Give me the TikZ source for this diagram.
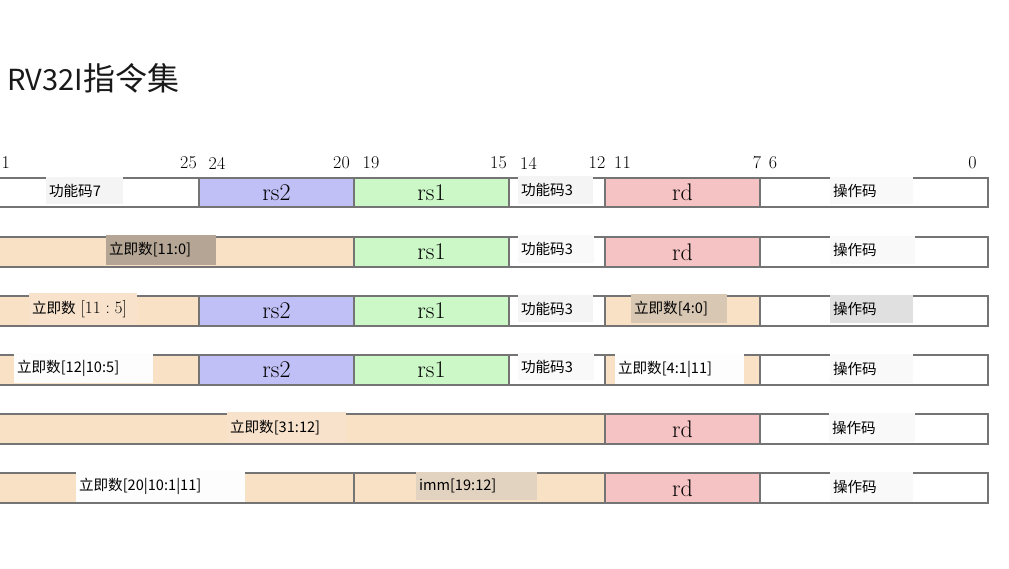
\documentclass[tikz,border=0pt]{standalone}
\usepackage{fontspec}
\newfontfamily\cjk{Noto Sans CJK SC}
\definecolor{rsblue}{HTML}{C0C0F6}
\definecolor{rsgreen}{HTML}{CCF8C8}
\definecolor{rdpink}{HTML}{F5C3C3}
\definecolor{impeach}{HTML}{F9E1C6}
\definecolor{edgegray}{HTML}{747474}
\definecolor{pA}{HTML}{F4F4F4}
\definecolor{pB}{HTML}{F9F9F9}
\definecolor{pC}{HTML}{FDFDFD}
\definecolor{pBrown}{HTML}{B4A594}
\definecolor{pTan}{HTML}{D8C7B3}
\definecolor{pTan2}{HTML}{E2D3C0}
\definecolor{pGray}{HTML}{E0E0E0}
\definecolor{pPeach}{HTML}{F8E2CB}
\tikzset{
  fieldbox/.style={draw=edgegray, line width=1.3pt, inner sep=0pt, outer sep=0pt,
    font=\fontsize{24}{24}\selectfont},
  patch/.style={inner xsep=3pt, inner ysep=0pt, outer sep=0pt, align=left,
    font=\cjk\fontsize{14.6}{14.6}\selectfont, text=black},
  bitno/.style={inner sep=0pt, font=\fontsize{18}{18}\selectfont},
  title/.style={inner sep=0pt, font=\cjk\fontsize{32}{32}\selectfont, text=black!90}
}
\newcommand\fbx[7]{\node[fieldbox, fill=#6, minimum width={(#3-(#2))*1pt},
  minimum height={(#5-(#4))*1pt}] (#1) at ({(#2+#3)/2},{(#4+#5)/2}) {#7};}
\newcommand\lbl[7]{\node[patch, fill=#6, text width={(#3-(#2)-6)*1pt},
  minimum height={(#5-(#4))*1pt}, anchor=north west] (#1) at (#2,#4) {#7};}
\begin{document}
\begin{tikzpicture}[x=1pt,y=-1pt]
\useasboundingbox (0,0) rectangle (1009,568);
\clip (0,0) rectangle (1009,568);
\fill[white] (0,0) rectangle (1009,568);

\node[title, anchor=base west] (ttl) at (7,90) {{\fontsize{29}{29}\selectfont RV32I}指令集};

% bit numbers
\node[bitno, anchor=east] (b31) at (10,163) {1};
\node[bitno] (b25) at (188.5,163) {25};
\node[bitno] (b24) at (217,163) {24};
\node[bitno] (b20) at (341.5,163) {20};
\node[bitno] (b19) at (371,163) {19};
\node[bitno] (b15) at (498.5,163) {15};
\node[bitno] (b14) at (528.5,163) {14};
\node[bitno] (b12) at (597,163) {12};
\node[bitno] (b11) at (622.5,163) {11};
\node[bitno] (b7) at (757,163) {7};
\node[bitno] (b6) at (773,163) {6};
\node[bitno] (b0) at (972.5,163) {0};

% row 1 (R)
\fbx{r1a}{-20}{199}{178}{207}{white}{}
\fbx{r1b}{199}{354}{178}{207}{rsblue}{rs2}
\fbx{r1c}{354}{509}{178}{207}{rsgreen}{rs1}
\fbx{r1d}{509}{605}{178}{207}{white}{}
\fbx{r1e}{605}{760}{178}{207}{rdpink}{rd}
\fbx{r1f}{760}{988}{178}{207}{white}{}
% row 2 (I)
\fbx{r2a}{-20}{354}{237}{267}{impeach}{}
\fbx{r2c}{354}{509}{237}{267}{rsgreen}{rs1}
\fbx{r2d}{509}{605}{237}{267}{white}{}
\fbx{r2e}{605}{760}{237}{267}{rdpink}{rd}
\fbx{r2f}{760}{988}{237}{267}{white}{}
% row 3 (S)
\fbx{r3a}{-20}{199}{296}{326}{impeach}{}
\fbx{r3b}{199}{354}{296}{326}{rsblue}{rs2}
\fbx{r3c}{354}{509}{296}{326}{rsgreen}{rs1}
\fbx{r3d}{509}{605}{296}{326}{white}{}
\fbx{r3e}{605}{760}{296}{326}{impeach}{}
\fbx{r3f}{760}{988}{296}{326}{white}{}
% row 4 (B)
\fbx{r4a}{-20}{199}{355}{385}{impeach}{}
\fbx{r4b}{199}{354}{355}{385}{rsblue}{rs2}
\fbx{r4c}{354}{509}{355}{385}{rsgreen}{rs1}
\fbx{r4d}{509}{605}{355}{385}{white}{}
\fbx{r4e}{605}{760}{355}{385}{impeach}{}
\fbx{r4f}{760}{988}{355}{385}{white}{}
% row 5 (U)
\fbx{r5a}{-20}{605}{414}{444}{impeach}{}
\fbx{r5e}{605}{760}{414}{444}{rdpink}{rd}
\fbx{r5f}{760}{988}{414}{444}{white}{}
% row 6 (J)
\fbx{r6a}{-20}{354}{473}{503}{impeach}{}
\fbx{r6c}{354}{605}{473}{503}{impeach}{}
\fbx{r6e}{605}{760}{473}{503}{rdpink}{rd}
\fbx{r6f}{760}{988}{473}{503}{white}{}

% label patches
\lbl{l1a}{46}{123}{177}{204}{pA}{功能码7}
\lbl{l1d}{518}{593}{176}{204}{pA}{功能码3}
\lbl{l1f}{830}{913}{177}{204}{pB}{操作码}

\lbl{l2a}{106}{216}{235}{265}{pBrown}{立即数[11:0]}
\lbl{l2d}{518}{594}{235}{263}{pB}{功能码3}
\lbl{l2f}{830}{915}{236}{264}{pB}{操作码}

\lbl{l3a}{29}{137}{293}{325}{pPeach}{立即数 {\normalfont\fontsize{17}{17}\selectfont$[11:5]$}}
\lbl{l3d}{518}{593}{295}{322}{pA}{功能码3}
\lbl{l3e}{631}{727}{294}{323}{pTan}{立即数[4:0]}
\lbl{l3f}{830}{913}{295}{323}{pGray}{操作码}

\lbl{l4a}{14}{153}{353}{383}{pC}{立即数[12|10:5]}
\lbl{l4d}{518}{594}{353}{380}{pB}{功能码3}
\lbl{l4e}{615}{744}{354}{384}{pC}{立即数[4:1|11]}
\lbl{l4f}{830}{913}{354}{383}{pB}{操作码}

\lbl{l5a}{227}{346}{412}{443}{pPeach}{立即数[31:12]}
\lbl{l5f}{829}{915}{413}{442}{pB}{操作码}

\lbl{l6a}{76}{245}{471}{502}{pC}{立即数[20|10:1|11]}
\lbl{l6c}{416}{537}{472}{500}{pTan2}{imm[19:12]}
\lbl{l6f}{830}{913}{472}{502}{pB}{操作码}
\end{tikzpicture}
\end{document}
